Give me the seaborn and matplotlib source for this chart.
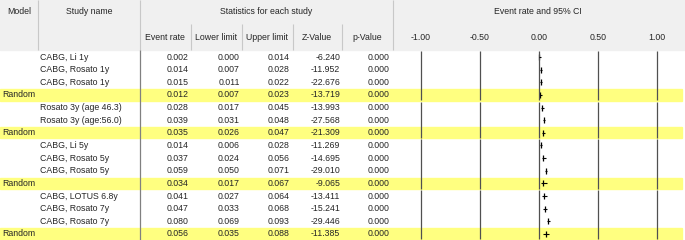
import matplotlib.pyplot as plt
import seaborn as sns
import numpy as np

# данные таблицы
model = ["", "", "", "Random", "", "", "Random", "", "", "", "Random", "", "", "", "Random"]
study = ["CABG, Li 1y", "CABG, Rosato 1y", "CABG, Rosato 1y", "",
         "Rosato 3y (age 46.3)", "Rosato 3y (age:56.0)", "",
         "CABG, Li 5y", "CABG, Rosato 5y", "CABG, Rosato 5y", "",
         "CABG, LOTUS 6.8y", "CABG, Rosato 7y", "CABG, Rosato 7y", ""]
event_rate = [0.002, 0.014, 0.015, 0.012, 0.028, 0.039, 0.035,
              0.014, 0.037, 0.059, 0.034, 0.041, 0.047, 0.080, 0.056]
lower = [0.000, 0.007, 0.011, 0.007, 0.017, 0.031, 0.026,
         0.006, 0.024, 0.050, 0.017, 0.027, 0.033, 0.069, 0.035]
upper = [0.014, 0.028, 0.022, 0.023, 0.045, 0.048, 0.047,
         0.028, 0.056, 0.071, 0.067, 0.064, 0.068, 0.093, 0.088]
z_value = [-6.240, -11.952, -22.676, -13.719, -13.993, -27.568, -21.309,
           -11.269, -14.695, -29.010, -9.065, -13.411, -15.241, -29.446, -11.385]
p_value = [0.000, 0.000, 0.000, 0.000, 0.000, 0.000, 0.000,
           0.000, 0.000, 0.000, 0.000, 0.000, 0.000, 0.000, 0.000]
groups = [(0, 3), (4, 6), (7, 10), (11, 14)]
ticks = [-1.00, -0.50, 0.00, 0.50, 1.00]

sns.set_style("white")
plt.rcParams['font.family'] = ['Liberation Sans', 'DejaVu Sans']
FS = 6.3

fig = plt.figure(figsize=(6.85, 2.4), dpi=100)
tab = fig.add_axes([0, 0, 1, 1])
tab.set_xlim(0, 685)
tab.set_ylim(240, 0)
tab.axis('off')

row_y = 57 + 12.64 * np.arange(len(study))

# шапка
tab.axhspan(0, 49.5, color='#f0f0f0', zorder=0)
for x in [38, 393]:
    tab.vlines(x, 0, 49.5, color='#c8c8c8', lw=0.8)
for x in [191, 242, 293, 342]:
    tab.vlines(x, 24, 49.5, color='#c8c8c8', lw=0.8)
tab.vlines(140, 0, 49.5, color='#c8c8c8', lw=0.8)
tab.vlines(140, 49.5, 240, color='#808080', lw=0.9)

tab.text(19, 12, "Model", ha='center', va='center', fontsize=FS)
tab.text(89, 12, "Study name", ha='center', va='center', fontsize=FS)
tab.text(266, 12, "Statistics for each study", ha='center', va='center', fontsize=FS)
tab.text(538, 12, "Event rate and 95% CI", ha='center', va='center', fontsize=FS)
sub = ["Event rate", "Lower limit", "Upper limit", "Z-Value", "p-Value"]
sub_x = [165, 216, 267, 317, 367]
for s, x in zip(sub, sub_x):
    tab.text(x, 37, s, ha='center', va='center', fontsize=FS)

# строки
col_right = [189, 240, 290, 340, 390]
for i in range(len(study)):
    y = row_y[i]
    if model[i]:
        tab.axhspan(y - 5.6, y + 5.6, xmin=0, xmax=682 / 685, color='#ffff80', zorder=0)
        tab.text(2, y, model[i], ha='left', va='center', fontsize=FS)
    tab.text(40, y, study[i], ha='left', va='center', fontsize=FS)
    vals = [event_rate[i], lower[i], upper[i], z_value[i], p_value[i]]
    for v, x in zip(vals, col_right):
        tab.text(x, y, f"{v:.3f}", ha='right', va='center', fontsize=FS)

# лесной график
px = 118.0
fx0 = 400
ax = fig.add_axes([fx0 / 685, 0, 280 / 685, 1])
ax.patch.set_alpha(0)
ax.set_xlim(-1 - 21 / px, 1 + (280 - 21 - 2 * px) / px)
ax.set_ylim(240, 0)
ax.axis('off')
for t in ticks:
    ax.text(t, 37, f"{t:.2f}", ha='center', va='center', fontsize=FS)
for a, b in groups:
    ax.vlines(ticks, row_y[a] - 6, row_y[b] + 5.2, color='#505050', lw=0.9)

ax.hlines(row_y, lower, upper, color='black', lw=0.8)
sns.scatterplot(x=event_rate, y=row_y, marker='|', s=14, color='black',
                linewidth=0.9, ax=ax, legend=False)

fig.savefig("out.png", dpi=100)
